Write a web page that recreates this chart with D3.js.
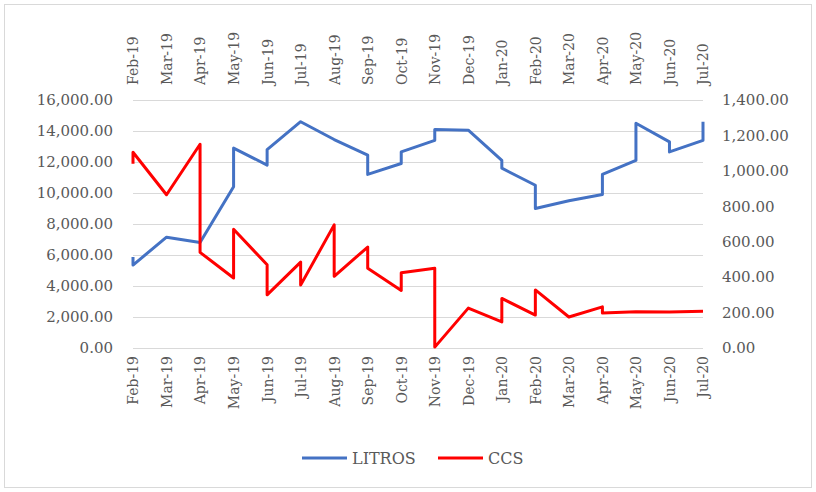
<!DOCTYPE html>
<html>
<head>
<meta charset="utf-8">
<script src="https://cdn.jsdelivr.net/npm/d3@7"></script>
<style>
  body { margin: 0; background: #fff; }
  .chart text { font-family: 'DejaVu Serif', serif; fill: #595959; }
</style>
</head>
<body>
<div class="chart"></div>
<script>
const months = ['Feb-19', 'Mar-19', 'Apr-19', 'May-19', 'Jun-19', 'Jul-19', 'Aug-19', 'Sep-19', 'Oct-19',
    'Nov-19', 'Dec-19', 'Jan-20', 'Feb-20', 'Mar-20', 'Apr-20', 'May-20', 'Jun-20', 'Jul-20'];

// several readings fall in the same month, so they stack on one x
const litrosMonths = ['Feb-19', 'Feb-19', 'Mar-19', 'Apr-19', 'May-19', 'May-19', 'Jun-19', 'Jun-19', 'Jul-19',
    'Aug-19', 'Sep-19', 'Sep-19', 'Oct-19', 'Oct-19', 'Nov-19', 'Nov-19', 'Dec-19', 'Jan-20', 'Jan-20',
    'Feb-20', 'Feb-20', 'Mar-20', 'Apr-20', 'Apr-20', 'May-20', 'May-20', 'Jun-20', 'Jun-20', 'Jul-20', 'Jul-20'];
const litrosValues = [5870, 5350, 7150, 6800, 10400, 12900, 11800, 12800, 14600,
    13450, 12450, 11200, 11900, 12650, 13400, 14100, 14050, 12100, 11600,
    10500, 9000, 9500, 9900, 11200, 12100, 14500, 13300, 12650, 13400, 14600];

const ccsMonths = ['Feb-19', 'Feb-19', 'Mar-19', 'Apr-19', 'Apr-19', 'May-19', 'May-19', 'Jun-19', 'Jun-19',
    'Jul-19', 'Jul-19', 'Aug-19', 'Aug-19', 'Sep-19', 'Sep-19', 'Oct-19', 'Oct-19', 'Nov-19', 'Nov-19',
    'Dec-19', 'Jan-20', 'Jan-20', 'Feb-20', 'Feb-20', 'Mar-20', 'Apr-20', 'Apr-20', 'May-20', 'Jun-20', 'Jul-20'];
const ccsValues = [1040, 1105, 865, 1150, 540, 395, 670, 470, 300,
    485, 355, 695, 405, 570, 450, 325, 425, 450, 5,
    225, 147, 280, 186, 328, 175, 232, 198, 205, 203, 208];

const litrosTicks = [0, 2000, 4000, 6000, 8000, 10000, 12000, 14000, 16000];
const ccsTicks = [0, 200, 400, 600, 800, 1000, 1200, 1400];

const W = 816, H = 492;
const margin = { top: 100, right: 113, bottom: 144, left: 133 },
    width = W - margin.left - margin.right,
    height = H - margin.top - margin.bottom;

const root = d3.select('.chart')
    .append('svg')
    .attr('width', W)
    .attr('height', H);

root.append('rect')
    .attr('x', 4.5).attr('y', 4.5)
    .attr('width', W - 9).attr('height', H - 9)
    .attr('fill', '#fff')
    .attr('stroke', '#d9d9d9');

const svg = root.append('g')
    .attr('transform', `translate(${margin.left},${margin.top})`);

const x = d3.scalePoint().domain(months).range([0, width]);
const yL = d3.scaleLinear().domain([0, 16000]).range([height, 0]);
const yR = d3.scaleLinear().domain([0, 1400]).range([height, 0]);

const fmt = d3.format(',.2f');

// gridlines
svg.append('g')
    .attr('class', 'grid')
    .call(d3.axisLeft(yL).tickValues(litrosTicks).tickSize(-width).tickFormat(''))
    .call(g => g.select('.domain').remove())
    .call(g => g.selectAll('line').attr('stroke', '#d9d9d9'));

svg.append('g')
    .call(d3.axisLeft(yL).tickValues(litrosTicks).tickSize(0).tickPadding(20).tickFormat(fmt))
    .call(g => g.select('.domain').remove())
    .selectAll('text')
    .style('font-size', '15px');

svg.append('g')
    .attr('transform', `translate(${width},0)`)
    .call(d3.axisRight(yR).tickValues(ccsTicks).tickSize(0).tickPadding(19).tickFormat(fmt))
    .call(g => g.select('.domain').remove())
    .selectAll('text')
    .style('font-size', '15px');

svg.append('g')
    .attr('transform', `translate(0,${height})`)
    .call(d3.axisBottom(x).tickSize(0))
    .call(g => g.select('.domain').remove())
    .selectAll('text')
    .attr('transform', 'rotate(-90)')
    .attr('x', -8).attr('y', 0).attr('dy', '0.35em')
    .style('text-anchor', 'end')
    .style('font-size', '14px');

svg.append('g')
    .call(d3.axisTop(x).tickSize(0))
    .call(g => g.select('.domain').remove())
    .selectAll('text')
    .attr('transform', 'rotate(-90)')
    .attr('x', 15).attr('y', 0).attr('dy', '0.35em')
    .style('text-anchor', 'start')
    .style('font-size', '14px');

const litros = litrosMonths.map((m, i) => ({ m, v: litrosValues[i] }));
const ccs = ccsMonths.map((m, i) => ({ m, v: ccsValues[i] }));

svg.append('path')
    .datum(litros)
    .attr('fill', 'none')
    .attr('stroke', '#4472c4')
    .attr('stroke-width', 3)
    .attr('stroke-linejoin', 'round')
    .attr('d', d3.line().x(d => x(d.m)).y(d => yL(d.v)));

svg.append('path')
    .datum(ccs)
    .attr('fill', 'none')
    .attr('stroke', '#ff0000')
    .attr('stroke-width', 3)
    .attr('stroke-linejoin', 'round')
    .attr('d', d3.line().x(d => x(d.m)).y(d => yR(d.v)));

// legend
const legend = root.append('g').attr('class', 'legend');
const items = [
    { name: 'LITROS', color: '#4472c4', x: 302 },
    { name: 'CCS', color: '#ff0000', x: 438 }
];
items.forEach(it => {
    legend.append('line')
        .attr('x1', it.x).attr('x2', it.x + 45)
        .attr('y1', 458).attr('y2', 458)
        .attr('stroke', it.color)
        .attr('stroke-width', 3);
    legend.append('text')
        .attr('x', it.x + 50).attr('y', 458)
        .attr('dy', '0.35em')
        .style('font-size', '16px')
        .text(it.name);
});
</script>
</body>
</html>
